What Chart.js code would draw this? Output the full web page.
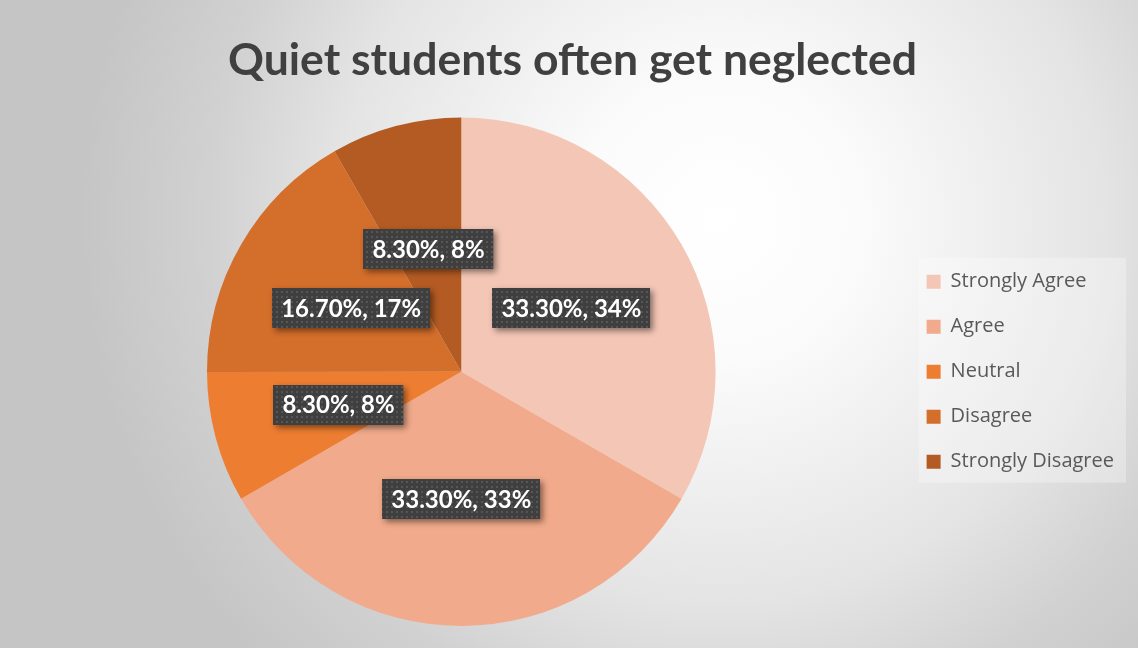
<!DOCTYPE html>
<html>
<head>
<meta charset="utf-8">
<script src="https://cdn.jsdelivr.net/npm/chart.js@4/dist/chart.umd.min.js"></script>
<style>
  html, body { margin: 0; padding: 0; background: #ffffff; }
  #wrap { width: 1138px; height: 648px; }
</style>
</head>
<body>
<div id="wrap"><canvas id="pie" width="1138" height="648"></canvas></div>
<script>
// Survey answers and their shares
const categories = ['Strongly Agree', 'Agree', 'Neutral', 'Disagree', 'Strongly Disagree'];
const responseShares = [33.3, 33.3, 8.3, 16.7, 8.3];
const shownPercents = [34, 33, 8, 17, 8];
const sliceColors = ['#F4C6B6', '#F1AA8B', '#ED7D31', '#D46E2B', '#B45B23'];
const chartTitle = 'Quiet students often get neglected';

// Soft radial backdrop plus a translucent panel behind the legend
const backdrop = {
  id: 'backdrop',
  beforeDraw(chart) {
    const { ctx, width, height } = chart;
    ctx.save();
    const g = ctx.createRadialGradient(720, 220, 0, 720, 220, 640);
    g.addColorStop(0, '#ffffff');
    g.addColorStop(0.22, '#fbfbfb');
    g.addColorStop(0.6, '#e4e4e4');
    g.addColorStop(0.8, '#d1d1d1');
    g.addColorStop(1, '#c5c5c5');
    ctx.fillStyle = g;
    ctx.fillRect(0, 0, width, height);

    const lg = chart.legend;
    if (lg && lg.columnSizes && lg.columnSizes.length) {
      const pad = lg.options.labels.padding;
      const colH = lg.columnSizes[0].height;
      const itemsTop = (lg.top + pad + lg.bottom - colH) / 2;
      const itemsBottom = itemsTop + colH - pad;
      ctx.fillStyle = 'rgba(255,255,255,0.3)';
      ctx.fillRect(lg.left + pad - 8, itemsTop - 14, lg.width - pad - 10 + 8 + 12, itemsBottom - itemsTop + 25);
    }
    ctx.restore();
  }
};

// Dotted dark fill used behind each value label
function dotPattern(ctx) {
  const tile = document.createElement('canvas');
  tile.width = 5; tile.height = 5;
  const t = tile.getContext('2d');
  t.fillStyle = '#3f3f3f';
  t.fillRect(0, 0, 5, 5);
  t.fillStyle = '#565656';
  t.fillRect(1, 1, 2, 2);
  return ctx.createPattern(tile, 'repeat');
}

// Value callouts: "value%, share%" in a dark box at the middle of each slice
const callouts = {
  id: 'callouts',
  afterDatasetsDraw(chart) {
    const { ctx } = chart;
    const meta = chart.getDatasetMeta(0);
    const values = chart.data.datasets[0].data;
    const fill = dotPattern(ctx);
    ctx.save();
    ctx.font = 'bold 24px Lato, "Open Sans", sans-serif';
    ctx.textAlign = 'center';
    ctx.textBaseline = 'middle';
    meta.data.forEach((arc, i) => {
      const pos = arc.tooltipPosition();
      const text = values[i].toFixed(2) + '%, ' + shownPercents[i] + '%';
      const w = ctx.measureText(text).width + 18;
      const h = 40;
      const x = Math.round(pos.x - w / 2);
      const y = Math.round(pos.y - h / 2);
      ctx.save();
      ctx.shadowColor = 'rgba(0,0,0,0.45)';
      ctx.shadowBlur = 6;
      ctx.shadowOffsetX = 3;
      ctx.shadowOffsetY = 3;
      ctx.fillStyle = '#404040';
      ctx.fillRect(x, y, w, h);
      ctx.restore();
      ctx.fillStyle = fill;
      ctx.fillRect(x, y, w, h);
      ctx.fillStyle = '#ffffff';
      ctx.fillText(text, pos.x, pos.y + 1);
    });
    ctx.restore();
  }
};

new Chart(document.getElementById('pie'), {
  type: 'pie',
  data: {
    labels: categories,
    datasets: [{
      data: responseShares,
      backgroundColor: sliceColors,
      borderWidth: 0
    }]
  },
  options: {
    responsive: false,
    animation: false,
    devicePixelRatio: 1,
    layout: { padding: { top: 10, left: 21, right: 14, bottom: 22 } },
    plugins: {
      title: {
        display: true,
        text: chartTitle,
        color: '#404040',
        font: { family: 'Lato, "Open Sans", sans-serif', size: 44.5, weight: 'bold', lineHeight: 1.2 },
        padding: { top: 24, bottom: 30 }
      },
      legend: {
        position: 'right',
        fullSize: false,
        labels: {
          color: '#595959',
          font: { family: '"Open Sans", Lato, sans-serif', size: 20 },
          boxWidth: 14,
          boxHeight: 14,
          padding: 25
        }
      },
      tooltip: { enabled: false }
    }
  },
  plugins: [backdrop, callouts]
});
</script>
</body>
</html>
